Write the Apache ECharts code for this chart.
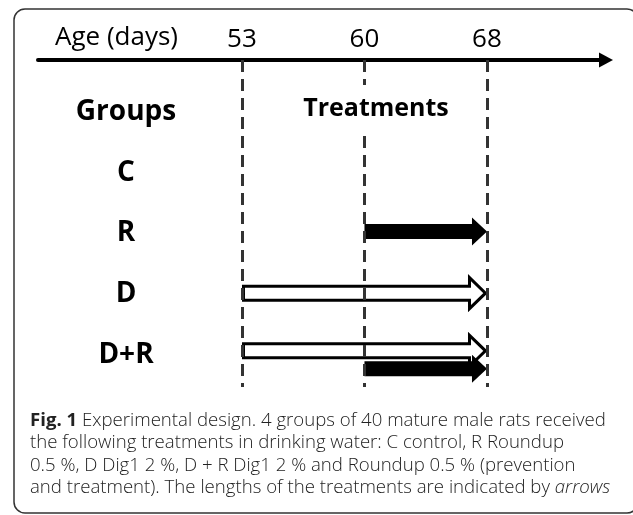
<!DOCTYPE html>
<html>
<head>
<meta charset="utf-8">
<script src="https://cdn.jsdelivr.net/npm/echarts@6/dist/echarts.min.js"></script>
<style>
  html, body { margin: 0; padding: 0; background: #fff; }
  #chart { width: 633px; height: 515px; }
</style>
</head>
<body>
<div id="chart"></div>
<script>
// time points on the age axis (days)
const timepoints = [53, 60, 68];
// row labels, top to bottom
const groupLabels = ['Groups', 'C', 'R', 'D', 'D+R'];
// Dig1 treatment (open arrows)
const dig1Groups = ['D', 'D+R'];
const dig1Start = [53, 53];
const dig1End = [68, 68];
// Roundup treatment (filled arrows)
const roundupGroups = ['R', 'D+R'];
const roundupStart = [60, 60];
const roundupEnd = [68, 68];

const caption = [
  '{b|Fig. 1} Experimental design. 4 groups of 40 mature male rats received',
  'the following treatments in drinking water: C control, R Roundup',
  '0.5 %, D Dig1 2 %, D + R Dig1 2 % and Roundup 0.5 % (prevention',
  'and treatment). The lengths of the treatments are indicated by {i|arrows}'
];

// groups that get both arrows -> stacked in the row
const shared = dig1Groups.filter(g => roundupGroups.indexOf(g) >= 0);

function toData(groups, starts, ends) {
  return groups.map((g, i) => [
    timepoints.indexOf(starts[i]),
    timepoints.indexOf(ends[i]),
    groupLabels.indexOf(g)
  ]);
}

// arrow shape: shaft half height, head half height, head length
function makeArrow(opts) {
  return function (params, api) {
    const s = api.coord([api.value(0), api.value(2)]);
    const e = api.coord([api.value(1), api.value(2)]);
    const g = groupLabels[api.value(2)];
    const y = s[1] + (shared.indexOf(g) >= 0 ? opts.sharedOffset : opts.offset);
    const x0 = s[0] + opts.inset, x1 = e[0] - opts.inset;
    const xh = x1 - opts.head;
    return {
      type: 'polygon',
      shape: {
        points: [
          [x0, y - opts.shaft], [xh, y - opts.shaft], [xh, y - opts.headH],
          [x1, y], [xh, y + opts.headH], [xh, y + opts.shaft], [x0, y + opts.shaft]
        ]
      },
      style: { fill: opts.fill, stroke: opts.stroke, lineWidth: opts.lineWidth, lineJoin: 'miter' }
    };
  };
}

const chart = echarts.init(document.getElementById('chart'), null, { renderer: 'canvas' });

chart.setOption({
  backgroundColor: '#fff',
  animation: false,
  grid: { left: 38, right: 30, top: 60, bottom: 128, containLabel: false, outerBoundsMode: 'none' },
  xAxis: {
    type: 'value',
    position: 'top',
    min: -1.665,
    max: 2.947,
    axisLine: {
      show: true,
      onZero: false,
      symbol: ['none', 'triangle'],
      symbolSize: [15, 14],
      symbolOffset: [0, 3],
      lineStyle: { color: '#000', width: 4 }
    },
    axisTick: { show: false },
    splitLine: { show: false },
    axisLabel: {
      customValues: [0, 1, 2],
      formatter: v => String(timepoints[Math.round(v)]),
      margin: 7,
      fontSize: 26,
      fontFamily: 'Open Sans',
      color: '#000'
    }
  },
  yAxis: {
    type: 'value',
    inverse: true,
    min: -0.857,
    max: 4.53,
    axisLine: { show: false },
    axisTick: { show: false },
    splitLine: { show: false },
    axisLabel: {
      inside: true,
      customValues: [0, 1, 2, 3, 4],
      formatter: v => groupLabels[Math.round(v)],
      margin: 88,
      align: 'center',
      fontSize: 28,
      fontWeight: 'bold',
      fontFamily: 'Open Sans',
      color: '#000'
    }
  },
  series: [
    {
      type: 'line',
      data: [],
      z: 1,
      markLine: {
        silent: true,
        symbol: ['none', 'none'],
        label: { show: false },
        lineStyle: { type: [12, 7], width: 3, color: '#333' },
        data: timepoints.map((t, i) => ({ xAxis: i }))
      }
    },
    {
      name: 'Dig1',
      type: 'custom',
      z: 3,
      renderItem: makeArrow({
        shaft: 7, headH: 15.5, head: 16, inset: 1.5,
        offset: -1, sharedOffset: -4,
        fill: '#fff', stroke: '#000', lineWidth: 3
      }),
      data: toData(dig1Groups, dig1Start, dig1End)
    },
    {
      name: 'Roundup',
      type: 'custom',
      z: 4,
      renderItem: makeArrow({
        shaft: 7.5, headH: 14, head: 15, inset: 0,
        offset: -2, sharedOffset: 14,
        fill: '#000', stroke: '#000', lineWidth: 0
      }),
      data: toData(roundupGroups, roundupStart, roundupEnd)
    }
  ],
  graphic: [
    {
      type: 'rect',
      z: 0,
      shape: { x: 14, y: 9, width: 624, height: 504, r: 11 },
      style: { fill: 'none', stroke: '#333', lineWidth: 1.5 }
    },
    {
      type: 'text',
      z: 10,
      x: 55,
      y: 38,
      style: { text: 'Age (days)', font: '26px "Open Sans"', fill: '#000', verticalAlign: 'middle' }
    },
    {
      type: 'text',
      z: 10,
      x: 376,
      y: 109,
      style: {
        text: 'Treatments',
        font: 'bold 25px "Open Sans"',
        fill: '#000',
        align: 'center',
        verticalAlign: 'middle',
        backgroundColor: '#fff',
        padding: [12, 4, 11, 4]
      }
    },
    {
      type: 'text',
      z: 10,
      x: 30,
      y: 409,
      style: {
        text: caption.join('\n'),
        font: '300 18.6px "Open Sans"',
        fill: '#222',
        lineHeight: 22.5,
        rich: {
          b: { font: 'bold 18.6px "Open Sans"', fill: '#222', lineHeight: 22.5 },
          i: { font: 'italic 300 18.6px "Open Sans"', fill: '#222', lineHeight: 22.5 }
        }
      }
    }
  ]
});
</script>
</body>
</html>
